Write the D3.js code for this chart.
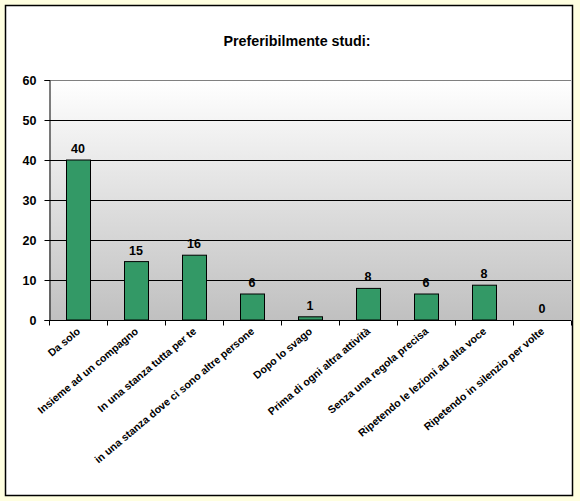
<!DOCTYPE html>
<html><head><meta charset="utf-8">
<script src="https://cdn.jsdelivr.net/npm/d3@7"></script>
<style>
html,body{margin:0;padding:0;background:#FFFFE0;}
svg{display:block;}
text{font-family:"Liberation Sans",Arial,sans-serif;font-weight:bold;fill:#000;}
</style></head>
<body>
<svg id="c" width="580" height="501"></svg>
<script>
const categories = ["Da solo","Insieme ad un compagno","In una stanza tutta per te","in una stanza dove ci sono altre persone","Dopo lo svago","Prima di ogni altra attività","Senza una regola precisa","Ripetendo le lezioni ad alta voce","Ripetendo in silenzio per volte"];
const values = [40, 14.6, 16.2, 6.5, 0.8, 7.9, 6.5, 8.7, 0];
const valueLabels = ["40","15","16","6","1","8","6","8","0"];
const yTicks = [0,10,20,30,40,50,60];
const title = "Preferibilmente studi:";

const svg = d3.select("#c");
svg.append("rect").attr("x",0).attr("y",0).attr("width",580).attr("height",501).attr("fill","#FFFFE0");
svg.append("rect").attr("x",5.5).attr("y",5.5).attr("width",567).attr("height",490)
  .attr("fill","#fff").attr("stroke","#000").attr("stroke-width",1.5);

const m = {left:49, right:571, top:80, bottom:320};
const x = d3.scaleBand().domain(categories).range([m.left,m.right]).paddingInner(0).paddingOuter(0);
const y = d3.scaleLinear().domain([0,60]).range([m.bottom,m.top]);

const defs = svg.append("defs");
const g = defs.append("linearGradient").attr("id","bg").attr("x1",0).attr("y1",0).attr("x2",0).attr("y2",1);
g.append("stop").attr("offset","0%").attr("stop-color","#ffffff");
g.append("stop").attr("offset","100%").attr("stop-color","#c0c0c0");
svg.append("rect").attr("x",m.left).attr("y",m.top).attr("width",m.right-m.left).attr("height",m.bottom-m.top).attr("fill","url(#bg)");

// gridlines
svg.append("g").selectAll("line").data(yTicks.filter(d=>d>0)).join("line")
  .attr("x1",m.left).attr("x2",m.right)
  .attr("y1",d=>Math.round(y(d))+0.5).attr("y2",d=>Math.round(y(d))+0.5)
  .attr("stroke",d=>d===60?"#808080":"#000").attr("stroke-width",1);

// bars
const bw = 24;
svg.append("g").selectAll("rect").data(values).join("rect")
  .attr("x",(d,i)=>Math.round(x(categories[i])+x.bandwidth()/2-bw/2)+0.5)
  .attr("y",d=>y(d))
  .attr("width",bw)
  .attr("height",d=>y(0)-y(d))
  .attr("fill","#339966").attr("stroke","#000").attr("stroke-width",1)
  .attr("display",d=>d>0?null:"none");

// value labels
svg.append("g").selectAll("text").data(values).join("text")
  .attr("x",(d,i)=>x(categories[i])+x.bandwidth()/2)
  .attr("y",d=>y(d)-7)
  .attr("text-anchor","middle").attr("font-size",12.5)
  .text((d,i)=>valueLabels[i]);

// y axis
const yAxis = d3.axisLeft(y).tickValues(yTicks).tickSize(5).tickPadding(8);
const ya = svg.append("g").attr("transform",`translate(${m.left+0.5},0)`).call(yAxis);
ya.select(".domain").attr("stroke","#000");
ya.selectAll(".tick line").attr("stroke","#000");
ya.selectAll("text").attr("font-size",12.5).attr("font-family","Liberation Sans, Arial, sans-serif").attr("font-weight","bold").attr("dy","0.35em");

// x axis
const xa = svg.append("g").attr("transform",`translate(0,${m.bottom+0.5})`);
xa.append("line").attr("x1",m.left).attr("x2",m.right).attr("stroke","#000");
const bounds = categories.map(c=>x(c)).concat([m.right]);
xa.selectAll(".tk").data(bounds).join("line").attr("class","tk")
  .attr("x1",d=>Math.round(d)+0.5).attr("x2",d=>Math.round(d)+0.5).attr("y1",0).attr("y2",5).attr("stroke","#000");
xa.selectAll("text").data(categories).join("text")
  .attr("transform",d=>`translate(${x(d)+x.bandwidth()/2+3},${12}) rotate(-40)`)
  .attr("text-anchor","end").attr("font-size",10.6)
  .text(d=>d);

svg.append("text").attr("x",297).attr("y",46).attr("text-anchor","middle").attr("font-size",14.3).text(title);
</script>
</body></html>
